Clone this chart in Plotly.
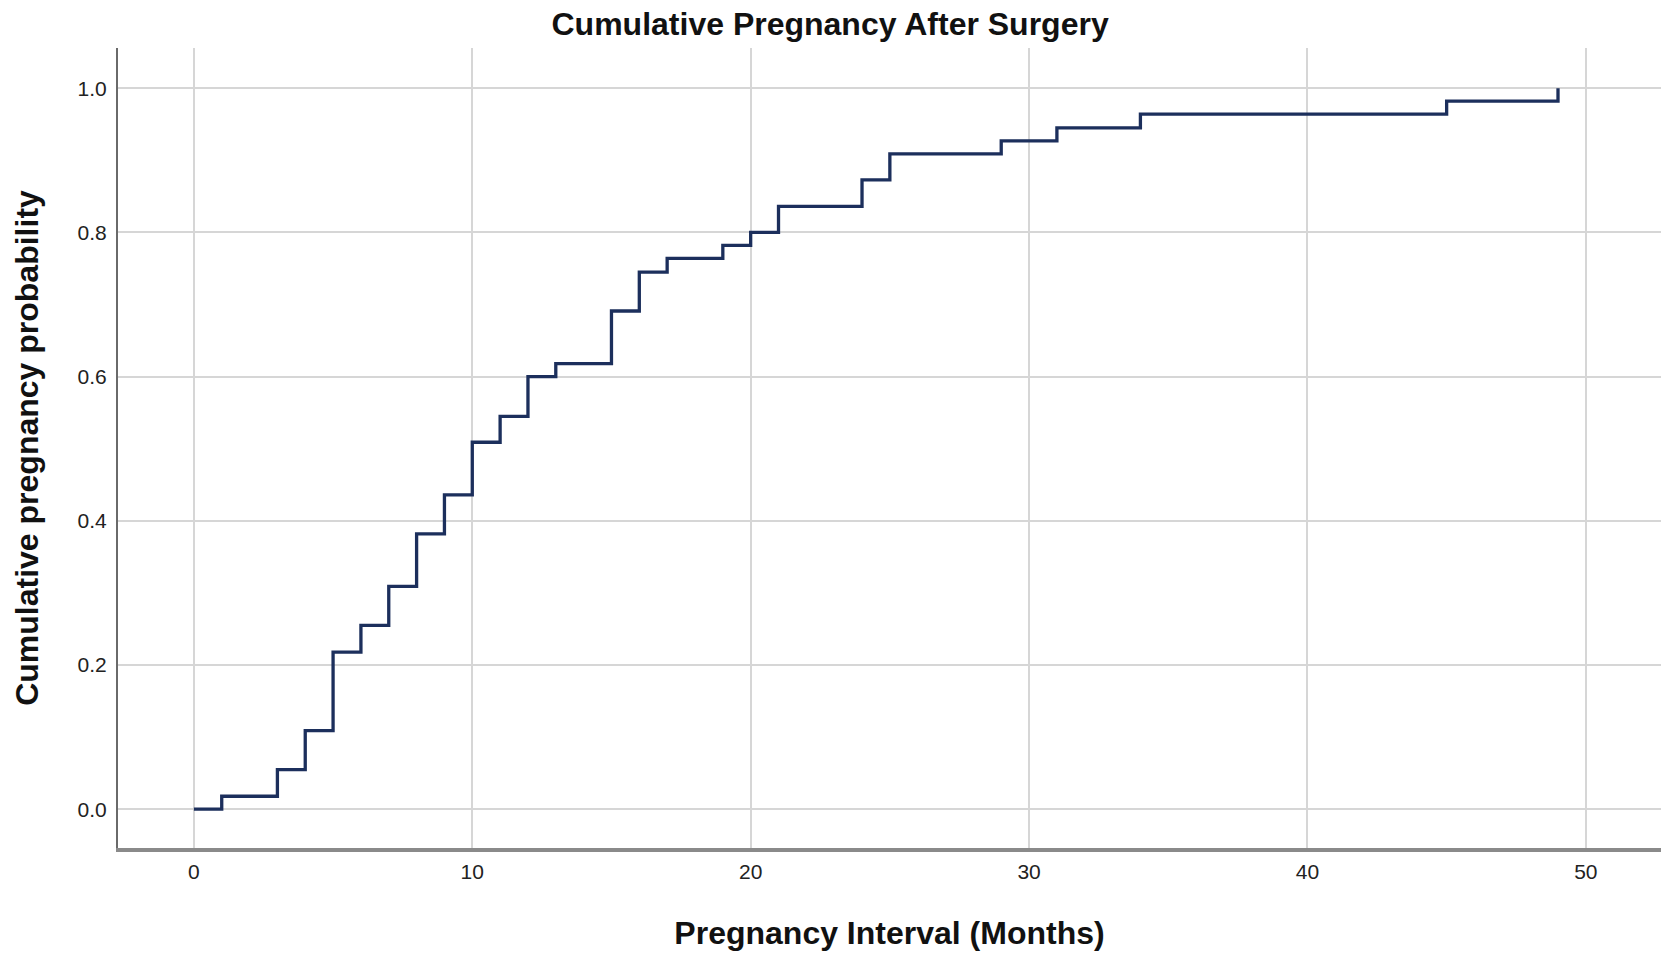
import plotly.graph_objects as go

# Event times (months) and cumulative pregnancy probability
months = [0, 1, 3, 4, 5, 6, 7, 8, 9, 10, 11, 12, 13, 15, 16, 17, 19, 20, 21, 24, 25, 29, 31, 34, 45, 49]
cum_prob = [0.0, 0.018, 0.055, 0.109, 0.218, 0.255, 0.309, 0.382, 0.436, 0.509, 0.545, 0.600,
            0.618, 0.691, 0.745, 0.764, 0.782, 0.800, 0.836, 0.873, 0.909, 0.927, 0.945,
            0.964, 0.982, 1.0]

x_ticks = [0, 10, 20, 30, 40, 50]
y_ticks = [0.0, 0.2, 0.4, 0.6, 0.8, 1.0]
y_tick_labels = ["0.0", "0.2", "0.4", "0.6", "0.8", "1.0"]

fig = go.Figure()
fig.add_trace(go.Scatter(
    x=months, y=cum_prob, mode="lines", line_shape="hv",
    line=dict(color="#1c2f5c", width=3.3), showlegend=False, hoverinfo="x+y"))

font_family = "Liberation Sans, Arial, sans-serif"

fig.update_layout(
    width=1677, height=966,
    paper_bgcolor="white", plot_bgcolor="white",
    margin=dict(l=118, r=16, t=48, b=118),
    title=dict(text="Cumulative Pregnancy After Surgery", x=0.495, xanchor="center",
               y=0.975, yanchor="middle",
               font=dict(family=font_family, size=32, color="#111111", weight="bold")),
    font=dict(family=font_family, color="#222222"),
)

fig.update_xaxes(
    range=[-2.726, 52.70], tickvals=x_ticks, ticks="", showgrid=True,
    gridcolor="#d6d6d6", gridwidth=2, zeroline=False,
    showline=True, linecolor="#8a8a8a", linewidth=4,
    tickfont=dict(size=21, color="#222222"), ticklabelstandoff=2,
    title=dict(text="Pregnancy Interval (Months)", standoff=40,
               font=dict(size=32, color="#111111", weight="bold")),
)
fig.update_yaxes(
    range=[-0.0538, 1.0558], tickvals=y_ticks, ticktext=y_tick_labels, ticks="",
    showgrid=True, gridcolor="#d6d6d6", gridwidth=2, zeroline=False,
    showline=True, linecolor="#6a6a6a", linewidth=2,
    tickfont=dict(size=21, color="#222222"), ticklabelstandoff=5,
    title=dict(text="Cumulative pregnancy probability", standoff=29,
               font=dict(size=32, color="#111111", weight="bold")),
)

# Remove the browser's default page margin so the figure fills the window exactly
fig.write_html("out.html", config={"displayModeBar": False},
               post_script="document.body.style.margin='0';")
